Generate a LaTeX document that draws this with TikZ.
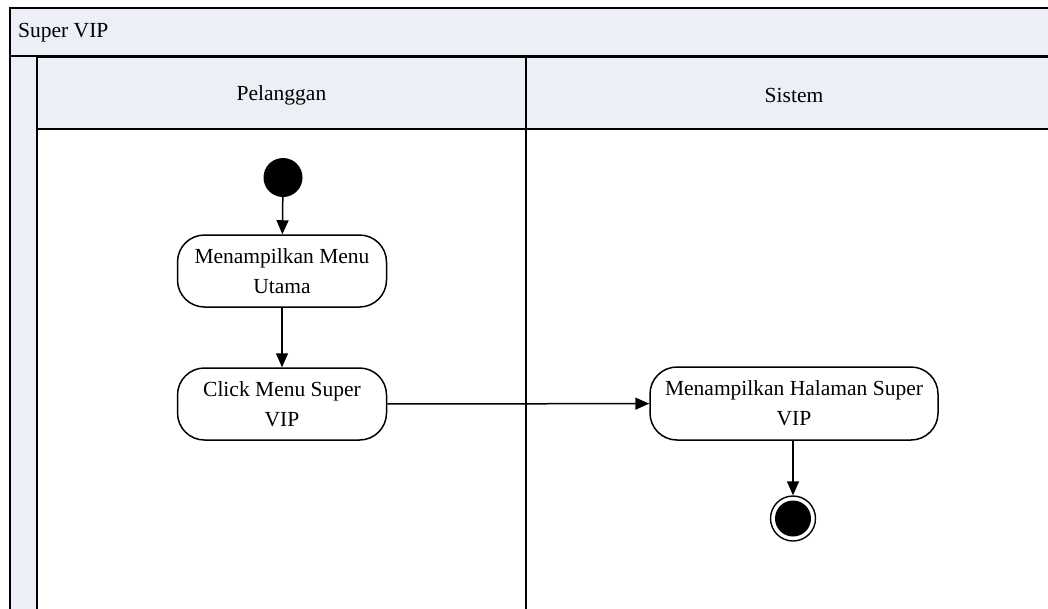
\documentclass[tikz,border=0pt]{standalone}
\usepackage{fontspec}
\setmainfont{Liberation Serif}
\usetikzlibrary{arrows.meta}
\definecolor{lanefill}{RGB}{236,239,245}
\begin{document}
\begin{tikzpicture}[x=1pt,y=-1pt,
  frame/.style={draw=black,line width=1.6pt,fill=lanefill},
  lanetext/.style={font=\fontsize{21.5}{30}\selectfont,inner sep=0pt},
  action/.style={draw=black,line width=1.5pt,rounded corners=27pt,fill=white,
    align=center,font=\fontsize{21.5}{30}\selectfont,inner sep=0pt},
  flow/.style={draw=black,line width=1.5pt,-{Triangle[length=14pt,width=12pt]}},
]
\useasboundingbox (0,0) rectangle (1048,608);
\clip (0,0) rectangle (1048,608);
\fill[white] (0,0) rectangle (1048,608);
% title band
\draw[frame] (10,8) rectangle (1065,56);
\node[lanetext,anchor=west] (title) at (18,33) {Super VIP};
% left strip
\draw[frame] (10,56) rectangle (37,620);
% lane headers
\draw[frame] (37,57) rectangle (526,129);
\draw[frame] (526,57) rectangle (1062,129);
\node[lanetext] (lane1) at (281.5,95) {Pelanggan};
\node[lanetext] (lane2) at (794,95) {Sistem};
% lane bodies
\draw[line width=1.6pt] (37,129) -- (37,620);
\draw[line width=1.6pt] (526,129) -- (526,620);
% nodes
\node[circle,fill=black,minimum size=39pt,inner sep=0pt] (start) at (283,177.5) {};
\node[action,minimum width=209pt,minimum height=72pt] (a1) at (282,271) {Menampilkan Menu\\Utama};
\node[action,minimum width=209pt,minimum height=72pt] (a2) at (282,404) {Click Menu Super\\VIP};
\node[action,minimum width=288pt,minimum height=73pt] (a3) at (794,403.5) {Menampilkan Halaman Super\\VIP};
\node[circle,draw=black,line width=1.4pt,fill=white,minimum size=45pt,inner sep=0pt] (end) at (793,518.5) {};
\node[circle,fill=black,minimum size=36pt,inner sep=0pt] (endin) at (end.center) {};
% flows
\draw[flow] (start) -- (a1);
\draw[flow] (a1) -- (a2);
\draw[flow] (a2) -- (a3);
\draw[flow] (a3.south -| end) -- (end.north);
\end{tikzpicture}
\end{document}
